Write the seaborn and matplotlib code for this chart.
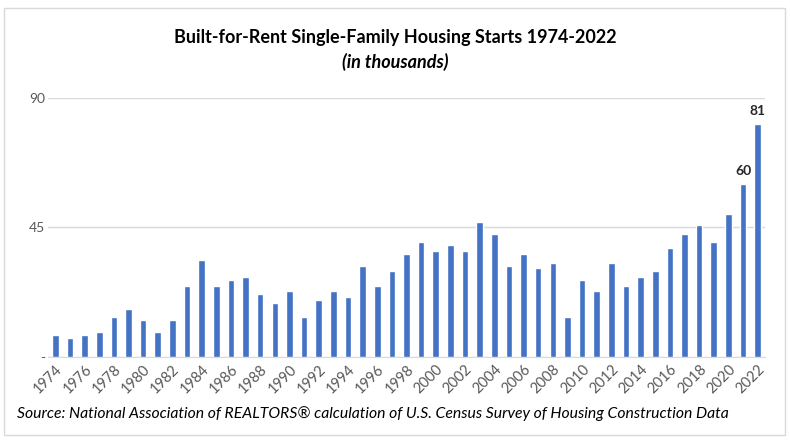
import pandas as pd
import seaborn as sns
import matplotlib.pyplot as plt
from matplotlib.patches import Rectangle

# Built-for-rent single-family starts, thousands
years = [str(y) for y in range(1974, 2023)]
starts = [7.6, 6.6, 7.6, 8.7, 13.9, 16.7, 12.9, 8.7, 12.9, 24.7,
          33.7, 24.7, 26.8, 27.8, 21.9, 18.8, 22.9, 13.9, 19.8, 22.9,
          20.9, 31.6, 24.7, 29.9, 35.8, 40.0, 36.8, 38.9, 36.8, 46.9,
          42.8, 31.6, 35.8, 30.9, 32.7, 13.9, 26.8, 22.9, 32.7, 24.7,
          27.8, 29.9, 37.9, 42.8, 45.9, 40.0, 49.7, 60.0, 81.0]
labeled_years = {'2021': '60', '2022': '81'}
ytick_vals = [0, 45, 90]
ytick_text = ['-', '45', '90']

df = pd.DataFrame({'year': years, 'starts': starts})

sns.set_style('white')
plt.rcParams['font.family'] = ['Lato', 'DejaVu Sans']

fig = plt.figure(figsize=(7.9, 4.44), dpi=100)
ax = fig.add_axes([48 / 790, 1 - 357 / 444, 717 / 790, 259 / 444])

sns.barplot(data=df, x='year', y='starts', color='#4472C4', width=0.45,
            saturation=1, ax=ax, zorder=3)

ax.set_xlim(-0.5, len(years) - 0.5)
ax.set_ylim(0, 90)
ax.set_yticks(ytick_vals)
ax.set_yticklabels(ytick_text, color='#595959', fontsize=10)
ax.yaxis.grid(True, color='#D9D9D9', linewidth=1, zorder=0)
ax.set_xticks(range(0, len(years), 2))
ax.set_xticklabels(years[::2], rotation=45, ha='right', rotation_mode='anchor',
                   color='#595959', fontsize=10.5)
ax.tick_params(axis='both', length=0, pad=4)
ax.tick_params(axis='y', pad=2)
ax.set_xlabel('')
ax.set_ylabel('')
for side in ['top', 'right', 'left']:
    ax.spines[side].set_visible(False)
ax.spines['bottom'].set_color('#D9D9D9')

for i, y in enumerate(years):
    if y in labeled_years:
        ax.annotate(labeled_years[y], (i, starts[i]), xytext=(0, 5),
                    textcoords='offset points', ha='center', va='bottom',
                    fontsize=10, fontweight='bold', color='#262626')

fig.text(0.5, 1 - 38 / 444, 'Built-for-Rent Single-Family Housing Starts 1974-2022',
         ha='center', va='center', fontsize=13, fontweight='bold', color='black')
fig.text(0.5, 1 - 62 / 444, '(in thousands)', ha='center', va='center',
         fontsize=13, fontweight='bold', style='italic', color='black')
fig.text(17 / 790, 1 - 414 / 444,
         'Source: National Association of REALTORS® calculation of U.S. Census Survey of Housing Construction Data',
         ha='left', va='center', fontsize=11.3, style='italic', color='black')

fig.patches.append(Rectangle((4 / 790, 1 - 435 / 444), 781 / 790, 427 / 444,
                             transform=fig.transFigure, fill=False,
                             edgecolor='#D9D9D9', linewidth=1))

fig.savefig('out.png', dpi=100)
